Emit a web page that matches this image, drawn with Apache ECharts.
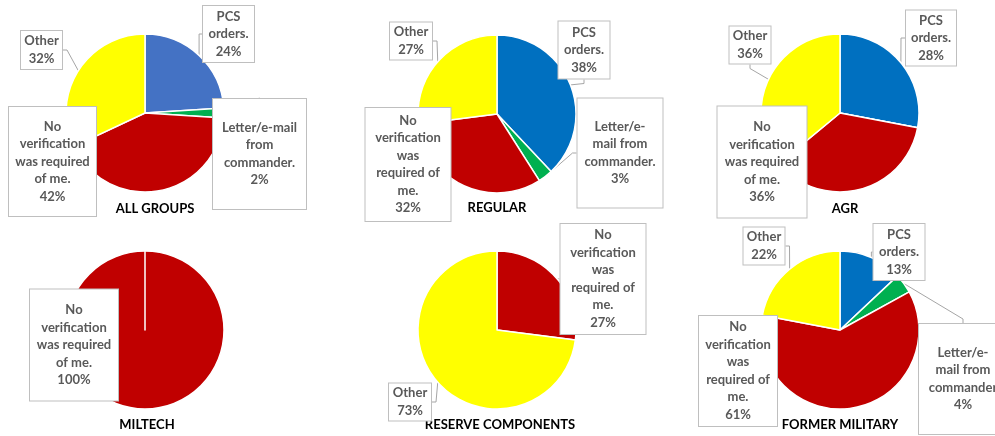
<!DOCTYPE html>
<html style="height: 100%">

<head>
    <meta charset="utf-8">
</head>

<body style="height: 100%; margin: 0; background: #fff">
    <div id="container" style="width: 995px; height: 436px"></div>
    <script type="text/javascript" src="https://cdn.jsdelivr.net/npm/echarts@6/dist/echarts.min.js"></script>
    <script type="text/javascript">
        // --- data ---
        var categories = ['PCS orders.', 'Letter/e-mail from commander.', 'No verification was required of me.', 'Other'];
        var groups = ['ALL GROUPS', 'REGULAR', 'AGR', 'MILTECH', 'RESERVE COMPONENTS', 'FORMER MILITARY'];
        var allGroups = [24, 2, 42, 32];
        var regular = [38, 3, 32, 27];
        var agr = [28, 0, 36, 36];
        var miltech = [0, 0, 100, 0];
        var reserveComponents = [0, 0, 27, 73];
        var formerMilitary = [13, 4, 61, 22];
        var values = [allGroups, regular, agr, miltech, reserveComponents, formerMilitary];

        // --- layout / style ---
        var LH = 17.5;
        var R = 79;
        var blue = '#0070C0';
        var layouts = [
            { center: [145, 113], title: [155, 209], blue: '#4472C4', boxes: {
                0: { x: 228.5, y: 34, w: 53, h: 58, text: 'PCS\norders.' },
                1: { x: 259.5, y: 154, w: 95, h: 112, text: 'Letter/e-mail\nfrom\ncommander.' },
                2: { x: 52.5, y: 161.5, w: 89, h: 111, text: 'No\nverification\nwas required\nof me.' },
                3: { x: 41.5, y: 50, w: 43, h: 40, text: 'Other' } } },
            { center: [497, 114], title: [497, 208], blue: blue, boxes: {
                0: { x: 584, y: 50, w: 53, h: 59, text: 'PCS\norders.' },
                1: { x: 620, y: 153, w: 87, h: 111, text: 'Letter/e-\nmail from\ncommander.' },
                2: { x: 408, y: 164.5, w: 87, h: 115, text: 'No\nverification\nwas\nrequired of\nme.' },
                3: { x: 411, y: 41, w: 44, h: 39, text: 'Other' } } },
            { center: [840, 113], title: [845, 209], blue: blue, boxes: {
                0: { x: 931, y: 38, w: 52, h: 57, text: 'PCS\norders.' },
                2: { x: 762, y: 162, w: 91, h: 113, text: 'No\nverification\nwas required\nof me.' },
                3: { x: 750, y: 45, w: 43, h: 36, text: 'Other' } } },
            { center: [145, 330], title: [147, 425], blue: blue, pointer: true, boxes: {
                2: { x: 74, y: 345, w: 90, h: 113, text: 'No\nverification\nwas required\nof me.' } } },
            { center: [497, 330], title: [500, 425], blue: blue, boxes: {
                2: { x: 603, y: 279, w: 87, h: 112, text: 'No\nverification\nwas\nrequired of\nme.' },
                3: { x: 410, y: 402, w: 44, h: 39, text: 'Other' } } },
            { center: [840, 330], title: [840, 425], blue: blue, boxes: {
                0: { x: 899, y: 252, w: 53, h: 58, text: 'PCS\norders.' },
                1: { x: 963, y: 379, w: 90, h: 112, text: 'Letter/e-\nmail from\ncommander' },
                2: { x: 738, y: 371, w: 80, h: 112, text: 'No\nverification\nwas\nrequired of\nme.' },
                3: { x: 764, y: 246, w: 43, h: 37, text: 'Other' } } }
        ];

        var dom = document.getElementById('container');
        var myChart = echarts.init(dom);

        var series = values.map(function (vals, s) {
            var lay = layouts[s];
            var colors = [lay.blue, '#00B050', '#C00000', '#FFFF00'];
            return {
                type: 'pie',
                center: lay.center,
                radius: R,
                startAngle: 90,
                clockwise: true,
                avoidLabelOverlap: false,
                animation: false,
                label: {
                    position: 'outside',
                    color: '#595959',
                    fontFamily: 'Lato',
                    fontWeight: 'bold',
                    fontSize: 13,
                    lineHeight: LH,
                    backgroundColor: '#fff',
                    borderColor: '#BFBFBF',
                    borderWidth: 1,
                    align: 'center',
                    overflow: 'none'
                },
                labelLine: { show: true, length: 4, length2: 4, lineStyle: { color: '#A6A6A6', width: 1 } },
                emphasis: { disabled: true },
                data: vals.map(function (v, i) {
                    var b = lay.boxes[i];
                    var item = {
                        name: categories[i],
                        value: v,
                        itemStyle: { color: colors[i], borderColor: '#fff', borderWidth: 1.5 }
                    };
                    if (!b || v === 0) {
                        item.label = { show: false };
                        item.labelLine = { show: false };
                        return item;
                    }
                    var lines = b.text.split('\n').length + 1;
                    var pv = Math.max(1, (b.h - lines * LH) / 2 - 1);
                    item.label = {
                        formatter: b.text + '\n' + v + '%',
                        width: b.w - 10,
                        overflow: 'none',
                        padding: [pv, 4, pv, 4]
                    };
                    return item;
                }),
                labelLayout: function (params) {
                    var b = lay.boxes[params.dataIndex];
                    if (!b) return {};
                    var res = { x: b.x, y: b.y, align: 'center', verticalAlign: 'middle' };
                    if (lay.pointer) {
                        // callout tip toward the bottom of the full circle
                        var tip = [lay.center[0], lay.center[1] + R];
                        var right = b.x + b.w / 2;
                        var bottom = b.y + b.h / 2;
                        res.labelLinePoints = [tip, [right, bottom - 20], [right, bottom - 20]];
                    }
                    return res;
                }
            };
        });

        var graphics = groups.map(function (g, s) {
            return {
                type: 'text',
                x: layouts[s].title[0],
                y: layouts[s].title[1],
                style: {
                    text: g,
                    align: 'center',
                    verticalAlign: 'middle',
                    fill: '#000',
                    font: 'bold 13px Lato'
                }
            };
        });

        myChart.setOption({
            backgroundColor: '#fff',
            series: series,
            graphic: graphics
        });
    </script>
</body>

</html>
